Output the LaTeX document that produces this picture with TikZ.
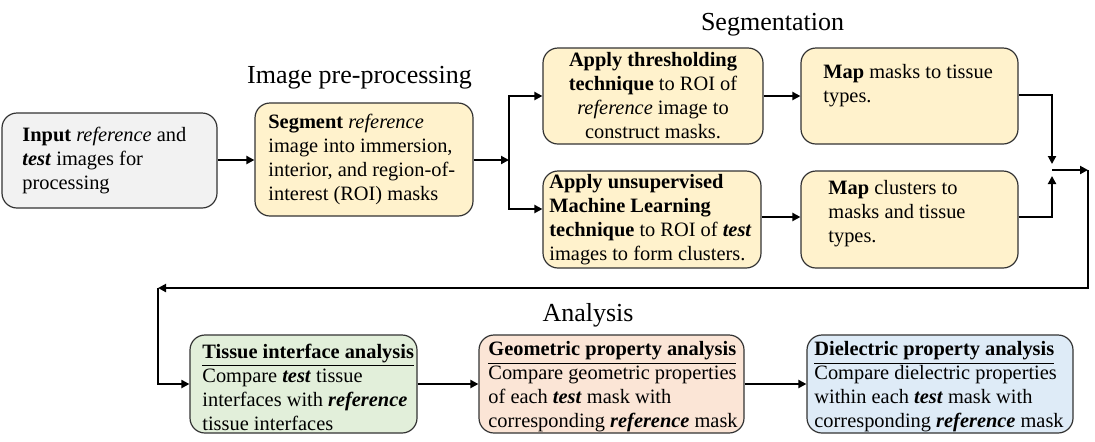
\documentclass[tikz,border=0pt]{standalone}
\usepackage{fontspec}
\setmainfont{Liberation Serif}
\usetikzlibrary{arrows.meta}
\definecolor{cgray}{HTML}{F2F2F2}
\definecolor{cyel}{HTML}{FFF2CC}
\definecolor{cgreen}{HTML}{E2EFDA}
\definecolor{cpeach}{HTML}{FBE5D6}
\definecolor{cblue}{HTML}{DEEBF7}
\newcommand{\bi}[1]{\textbf{\textit{#1}}}
\begin{document}
\begin{tikzpicture}[x=0.5pt,y=-0.5pt,
  box/.style={draw=black!80, line width=0.6pt, rounded corners=7.5pt, inner sep=0pt},
  txt/.style={inner sep=0pt, anchor=west, align=left, font=\fontsize{10.2}{12}\selectfont},
  ctxt/.style={inner sep=0pt, align=center, font=\fontsize{10.2}{12}\selectfont},
  head/.style={inner sep=0pt, anchor=base, font=\fontsize{13}{15}\selectfont},
  arr/.style={line width=1pt, -{Triangle[length=4pt,width=4pt]}}]
\useasboundingbox (0,0) rectangle (1095,441);

% headings
\node[head] (h1) at (359.5,83) {Image pre-processing};
\node[head] (h2) at (772.5,30) {Segmentation};
\node[head] (h3) at (588,321) {Analysis};

% boxes
\node[box, fill=cgray, minimum width=107.5pt, minimum height=47.5pt] (input) at (109.5,160.5) {};
\node[txt] (inputt) at (22,160.5) {\textbf{Input} \textit{reference} and\\\bi{test} images for\\processing};

\node[box, fill=cyel, minimum width=109pt, minimum height=56.5pt] (seg) at (364,159.5) {};
\node[txt] (segt) at (268,159.5) {\textbf{Segment} \textit{reference}\\image into immersion,\\interior, and region-of-\\interest (ROI) masks};

\node[box, fill=cyel, minimum width=110pt, minimum height=48pt, ctxt] (thr) at (653,96) {\textbf{Apply thresholding}\\\textbf{technique} to ROI of\\\textit{reference} image to\\construct masks.};

\node[box, fill=cyel, minimum width=109pt, minimum height=48.5pt] (ml) at (652,219.5) {};
\node[txt] (mlt) at (549,220) {\textbf{Apply unsupervised}\\\textbf{Machine Learning}\\\textbf{technique} to ROI of \bi{test}\\images to form clusters.};

\node[box, fill=cyel, minimum width=108.5pt, minimum height=48pt] (mapa) at (909.5,96) {};
\node[txt] (mapat) at (823,86) {\textbf{Map} masks to tissue\\types.};

\node[box, fill=cyel, minimum width=108.5pt, minimum height=48.5pt] (mapb) at (909.5,219.5) {};
\node[txt] (mapbt) at (828,214) {\textbf{Map} clusters to\\masks and tissue\\types.};

\node[box, fill=cgreen, minimum width=113.5pt, minimum height=49pt] (tis) at (303.5,384) {};
\node[txt] (tist) at (202,387) {\underline{\textbf{Tissue interface analysis}}\\Compare \bi{test} tissue\\interfaces with \bi{reference}\\tissue interfaces};

\node[box, fill=cpeach, minimum width=132.5pt, minimum height=49pt] (geo) at (611.5,384) {};
\node[txt] (geot) at (488,387) {\underline{\textbf{Geometric property analysis}}\\Compare geometric properties\\of each \bi{test} mask with\\corresponding \bi{reference} mask};

\node[box, fill=cblue, minimum width=133pt, minimum height=49pt] (die) at (940,384) {};
\node[txt] (diet) at (814,387) {\underline{\textbf{Dielectric property analysis}}\\Compare dielectric properties\\within each \bi{test} mask with\\corresponding \bi{reference} mask};

% coordinates
\coordinate (j1) at (509,160);
\coordinate (j2) at (1052,170);
\coordinate (c1) at (1088,170);
\coordinate (c2) at (1088,288);
\coordinate (c3) at (158,288);

% connectors
\draw[arr] (input.east |- j1) -- (seg.west |- j1);
\draw[arr] (seg.east |- j1) -- (j1);
\draw[arr] (j1) |- (thr.west);
\draw[arr] (j1) |- (ml.west |- 0,209);
\draw[arr] (thr.east) -- (mapa.west);
\draw[arr] (ml.east |- 0,217) -- (mapb.west |- 0,217);
\draw[arr] (mapa.east |- 0,95) -| ([yshift=3pt]j2);
\draw[arr] (mapb.east |- 0,217) -| ([yshift=-3pt]j2);
\draw[arr] (j2) -- (c1);
\draw[arr] (c1) -- (c2) -- (c3);
\draw[arr] (c3) |- (tis.west);
\draw[arr] (tis.east) -- (geo.west);
\draw[arr] (geo.east) -- (die.west);
\end{tikzpicture}
\end{document}
